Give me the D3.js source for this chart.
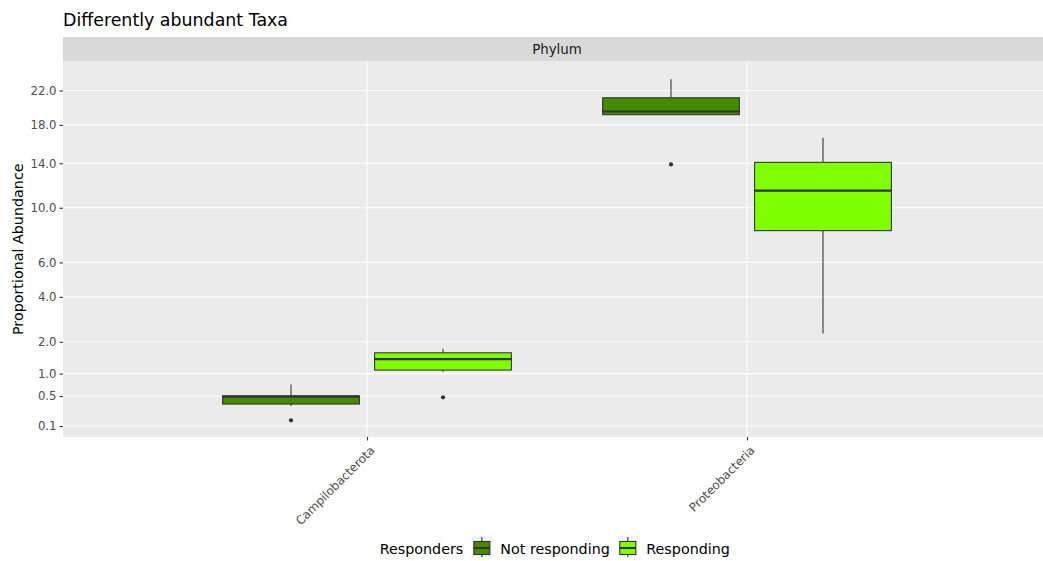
<!DOCTYPE html>
<html>
<head>
<meta charset="utf-8">
<script src="https://cdn.jsdelivr.net/npm/d3@7"></script>
<style>
  html, body { margin: 0; padding: 0; background: #fff; }
  svg { display: block; font-family: "DejaVu Sans", sans-serif; }
</style>
</head>
<body>
<svg id="chart" width="1043" height="561"></svg>
<script>
// Phyla on the x axis and the two response groups
const categories = ["Campilobacterota", "Proteobacteria"];
const groups = ["Not responding", "Responding"];
const groupColors = ["#458B00", "#7FFF00"];

// Box summaries per phylum, ordered [Not responding, Responding]
const whiskerLow = { Campilobacterota: [0.333, 1.047], Proteobacteria: [19.1, 2.32] };
const q1         = { Campilobacterota: [0.363, 1.093], Proteobacteria: [19.14, 8.20] };
const median     = { Campilobacterota: [0.487, 1.413], Proteobacteria: [19.51, 11.46] };
const q3         = { Campilobacterota: [0.505, 1.615], Proteobacteria: [21.12, 14.09] };
const whiskerHigh= { Campilobacterota: [0.738, 1.75], Proteobacteria: [23.41, 16.61] };
const outliers   = { Campilobacterota: [[0.153], [0.476]], Proteobacteria: [[13.89], []] };

const yTicks = [0.1, 0.5, 1, 2, 4, 6, 10, 14, 18, 22];

const svg = d3.select("#chart");
const panel = { left: 63, right: 1051, top: 61.5, bottom: 437 };

// Continuous position for discrete categories (1, 2), dodge offsets per group
const x = d3.scaleLinear().domain([0.2, 2.8]).range([panel.left, panel.right]);
const y = d3.scaleSqrt().domain([0.03, 25.69]).range([panel.bottom, panel.top]);
const dodge = [-0.2, 0.2];
const boxHalf = 0.18;

// Title
svg.append("text").attr("x", 63).attr("y", 26)
  .attr("font-size", 17.4).attr("fill", "#000")
  .text("Differently abundant Taxa");

// Facet strip
svg.append("rect").attr("x", panel.left).attr("y", 37)
  .attr("width", panel.right - panel.left).attr("height", panel.top - 37)
  .attr("fill", "#d9d9d9");
svg.append("text").attr("x", (panel.left + panel.right) / 2).attr("y", 54)
  .attr("text-anchor", "middle").attr("font-size", 13.4).attr("fill", "#1a1a1a")
  .text("Phylum");

// Panel background
svg.append("rect").attr("x", panel.left).attr("y", panel.top)
  .attr("width", panel.right - panel.left).attr("height", panel.bottom - panel.top)
  .attr("fill", "#ebebeb");

// Grid
const grid = svg.append("g");
grid.selectAll("line.h").data(yTicks).join("line")
  .attr("x1", panel.left).attr("x2", panel.right)
  .attr("y1", d => y(d)).attr("y2", d => y(d))
  .attr("stroke", "#fff").attr("stroke-width", 1.1);
grid.selectAll("line.v").data(categories).join("line")
  .attr("y1", panel.top).attr("y2", panel.bottom)
  .attr("x1", (d, i) => x(i + 1)).attr("x2", (d, i) => x(i + 1))
  .attr("stroke", "#fff").attr("stroke-width", 1.1);

// Y axis
const yAxis = d3.axisLeft(y).tickValues(yTicks).tickFormat(d3.format(".1f")).tickSize(3.5).tickPadding(3);
const gy = svg.append("g").attr("transform", `translate(${panel.left},0)`).call(yAxis);
gy.select(".domain").remove();
gy.selectAll(".tick line").attr("stroke", "#333").attr("stroke-width", 1.1);
gy.selectAll(".tick text").attr("fill", "#4d4d4d").attr("font-size", 11.7)
  .attr("font-family", "DejaVu Sans, sans-serif");

// X axis
const xAxis = d3.axisBottom(x).tickValues([1, 2]).tickFormat(d => categories[d - 1]).tickSize(3.5).tickPadding(0);
const gx = svg.append("g").attr("transform", `translate(0,${panel.bottom})`).call(xAxis);
gx.select(".domain").remove();
gx.selectAll(".tick line").attr("stroke", "#333").attr("stroke-width", 1.1);
gx.selectAll(".tick text")
  .attr("fill", "#4d4d4d").attr("font-size", 11.9)
  .attr("font-family", "DejaVu Sans, sans-serif")
  .attr("text-anchor", "end")
  .attr("x", 0).attr("y", 0).attr("dy", 0)
  .attr("transform", "translate(8,14) rotate(-45)");

// Y axis title
svg.append("text")
  .attr("transform", `translate(23,${(panel.top + panel.bottom) / 2}) rotate(-90)`)
  .attr("text-anchor", "middle").attr("font-size", 14.3).attr("fill", "#000")
  .text("Proportional Abundance");

// Boxplots
const boxes = [];
categories.forEach((c, ci) => {
  groups.forEach((g, gi) => {
    boxes.push({
      cx: ci + 1 + dodge[gi], gi,
      lo: whiskerLow[c][gi], q1: q1[c][gi], med: median[c][gi],
      q3: q3[c][gi], hi: whiskerHigh[c][gi], out: outliers[c][gi]
    });
  });
});

const bg = svg.append("g");
const stroke = "#333333";
boxes.forEach(b => {
  const g = bg.append("g");
  g.append("line").attr("x1", x(b.cx)).attr("x2", x(b.cx))
    .attr("y1", y(b.hi)).attr("y2", y(b.q3)).attr("stroke", stroke).attr("stroke-width", 1.07);
  g.append("line").attr("x1", x(b.cx)).attr("x2", x(b.cx))
    .attr("y1", y(b.q1)).attr("y2", y(b.lo)).attr("stroke", stroke).attr("stroke-width", 1.07);
  g.append("rect")
    .attr("x", x(b.cx - boxHalf)).attr("width", x(b.cx + boxHalf) - x(b.cx - boxHalf))
    .attr("y", y(b.q3)).attr("height", y(b.q1) - y(b.q3))
    .attr("fill", groupColors[b.gi]).attr("stroke", stroke).attr("stroke-width", 1.07);
  g.append("line").attr("x1", x(b.cx - boxHalf)).attr("x2", x(b.cx + boxHalf))
    .attr("y1", y(b.med)).attr("y2", y(b.med)).attr("stroke", stroke).attr("stroke-width", 2.1);
  g.selectAll("circle").data(b.out).join("circle")
    .attr("cx", x(b.cx)).attr("cy", d => y(d)).attr("r", 2.1).attr("fill", stroke);
});

// Legend
const leg = svg.append("g");
const legTitle = leg.append("text").attr("x", 379.7).attr("y", 554)
  .attr("font-size", 14.3).attr("fill", "#000").text("Responders");
let lx = 379.7 + legTitle.node().getComputedTextLength() + 8.5;
groups.forEach((g, gi) => {
  const k = leg.append("g").attr("transform", `translate(${lx},536)`);
  k.append("rect").attr("width", 20).attr("height", 21.5).attr("fill", "#f2f2f2");
  k.append("line").attr("x1", 10).attr("x2", 10).attr("y1", 1).attr("y2", 21)
    .attr("stroke", stroke).attr("stroke-width", 1.07);
  k.append("rect").attr("x", 2).attr("y", 5.5).attr("width", 16).attr("height", 13)
    .attr("fill", groupColors[gi]).attr("stroke", stroke).attr("stroke-width", 1.07);
  k.append("line").attr("x1", 2).attr("x2", 18).attr("y1", 12).attr("y2", 12)
    .attr("stroke", stroke).attr("stroke-width", 2.1);
  const t = leg.append("text").attr("x", lx + 28.5).attr("y", 554)
    .attr("font-size", 14.3).attr("fill", "#000").text(g);
  lx += 28.5 + t.node().getComputedTextLength() + 8;
});
</script>
</body>
</html>
